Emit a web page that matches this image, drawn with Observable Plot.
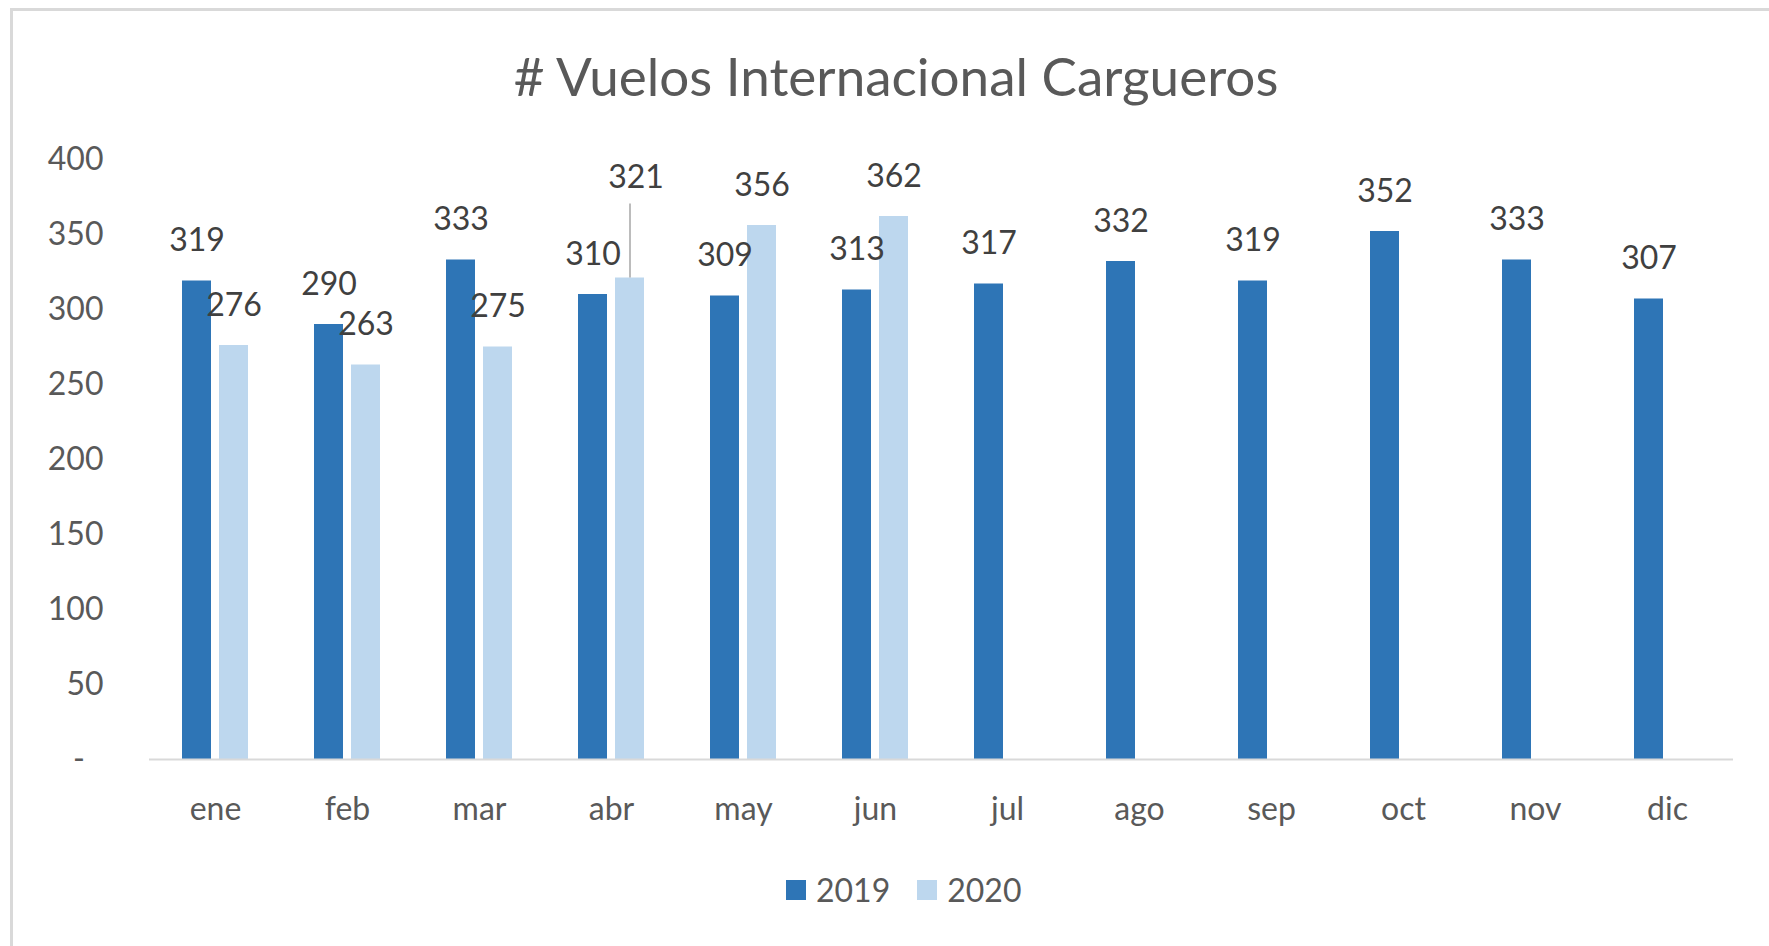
<!DOCTYPE html>
<html>
<head>
<meta charset="utf-8">
<script src="https://cdn.jsdelivr.net/npm/d3@7"></script>
<script src="https://cdn.jsdelivr.net/npm/@observablehq/plot@0.6"></script>
<style>
  html, body { margin: 0; padding: 0; background: #fff; overflow: hidden; width: 1769px; height: 946px; }
  #frame { position: absolute; left: 10px; top: 8px; width: 1800px; height: 1000px; border: 3px solid #d9d9d9; box-sizing: border-box; }
  #title { position: absolute; left: 0; width: 1792px; top: 44px; text-align: center; font-family: Lato, sans-serif; font-size: 53px; color: #595959; line-height: 64px; white-space: nowrap; }
  #chart { position: absolute; left: 0; top: 100px; }
  #legend { position: absolute; left: 786px; top: 870px; display: flex; align-items: center; font-family: Lato, sans-serif; font-size: 32px; color: #595959; line-height: 40px; }
  .sw { width: 20px; height: 20px; display: inline-block; margin-right: 10px; }
  .item { display: flex; align-items: center; margin-right: 27px; }
</style>
</head>
<body>
<div id="frame"></div>
<div id="title"># Vuelos Internacional Cargueros</div>
<div id="chart"></div>
<div id="legend"></div>
<script>
const months = ["ene","feb","mar","abr","may","jun","jul","ago","sep","oct","nov","dic"];
const years = ["2019","2020"];
const v2019 = [319,290,333,310,309,313,317,332,319,352,333,307];
const v2020 = [276,263,275,321,356,362];
const colors = ["#2E75B6","#BDD7EE"];
const yTicks = [0,50,100,150,200,250,300,350,400];

const data = [];
months.forEach((m,i) => {
  data.push({month: m, year: "2019", value: v2019[i]});
  if (i < v2020.length) data.push({month: m, year: "2020", value: v2020[i]});
});

const W = 1769, marginTop = 59, plotH = 600, marginBottom = 80;
const pxPerUnit = plotH / 400;
const isLifted = d => d.month === "abr" && d.year === "2020";

const chart = Plot.plot({
  width: W,
  height: marginTop + plotH + marginBottom,
  marginLeft: 147,
  marginRight: 35,
  marginTop,
  marginBottom,
  style: {fontFamily: "Lato, sans-serif", fontSize: "32px", color: "#595959", background: "transparent"},
  fx: {domain: months, padding: 0, label: null, tickSize: 0, tickPadding: 38},
  x: {domain: years, axis: null, paddingInner: 0.21, paddingOuter: 0.88},
  y: {domain: [0,400], ticks: yTicks, tickSize: 0, tickPadding: 46, label: null,
      tickFormat: d => d === 0 ? "-\u2007" : String(d)},
  color: {domain: years, range: colors},
  marks: [
    Plot.barY(data, {fx: "month", x: "year", y: "value", fill: "year"}),
    Plot.ruleY([0], {stroke: "#d9d9d9", strokeWidth: 2}),
    Plot.text(data.filter(d => !isLifted(d)), {fx: "month", x: "year", y: "value", text: d => String(d.value),
      dy: -40, fill: "#404040", fontSize: 32}),
    Plot.ruleX(data.filter(isLifted), {fx: "month", x: "year", y1: "value", y2: d => d.value + 74 / pxPerUnit,
      stroke: "#a6a6a6", strokeWidth: 1.5}),
    Plot.text(data.filter(isLifted), {fx: "month", x: "year", y: "value", text: d => String(d.value),
      dy: -100, dx: 6, fill: "#404040", fontSize: 32})
  ]
});
document.getElementById("chart").appendChild(chart);

const legend = document.getElementById("legend");
years.forEach((y, i) => {
  const it = document.createElement("div");
  it.className = "item";
  const sw = document.createElement("span");
  sw.className = "sw";
  sw.style.background = colors[i];
  const t = document.createElement("span");
  t.textContent = y;
  it.appendChild(sw); it.appendChild(t);
  legend.appendChild(it);
});
</script>
</body>
</html>
